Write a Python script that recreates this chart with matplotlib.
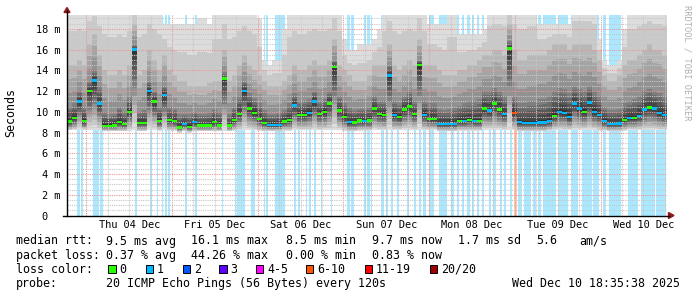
import numpy as np
import matplotlib
matplotlib.use("Agg")
import matplotlib.pyplot as plt
import matplotlib.dates as mdates
from matplotlib.lines import Line2D
from matplotlib.patches import Rectangle, Polygon
from datetime import datetime, timedelta

W, H = 697, 297
t_start = datetime(2025, 12, 3, 18, 35, 38)
t_end = datetime(2025, 12, 10, 18, 35, 38)

# ---------------- data (120 bins of 1.4 h each) ----------------
median_ms = [
    9.06, 9.4, 11.0, 9.1, 12.0, 13.0, 10.8, 8.65, 8.65, 8.7,
    9.0, 8.8, 10.0, 16.0, 8.9, 8.9, 12.0, 11.0, 9.1, 11.6,
    9.2, 9.1, 8.5, 8.8, 8.55, 9.0, 8.67, 8.67, 8.67, 9.0,
    8.7, 13.2, 8.67, 9.2, 9.8, 12.0, 10.3, 9.9, 9.3, 8.9,
    8.74, 8.74, 8.74, 9.06, 9.2, 10.6, 9.7, 9.7, 9.9, 11.0,
    9.8, 10.0, 10.8, 14.3, 10.1, 9.5, 9.0, 8.95, 9.15, 9.1,
    9.15, 10.3, 9.8, 9.7, 13.5, 9.7, 9.5, 10.2, 10.5, 9.8,
    14.5, 9.7, 9.3, 9.3, 8.8, 8.8, 8.8, 8.8, 9.1, 9.1,
    9.2, 9.1, 9.1, 10.3, 10.1, 10.8, 10.2, 9.8, 16.1, 9.9,
    9.0, 8.9, 8.9, 8.9, 8.95, 8.96, 9.1, 9.6, 10.0, 9.9,
    9.5, 10.8, 10.3, 10.0, 10.9, 10.0, 9.7, 9.1, 8.8, 8.8,
    8.85, 9.2, 9.4, 9.4, 9.6, 10.2, 10.4, 10.3, 9.9, 9.7,
]
loss_count = [
    0, 0, 1, 0, 0, 1, 1, 0, 0, 0,
    0, 0, 0, 1, 0, 0, 1, 0, 0, 1,
    0, 0, 0, 1, 0, 1, 0, 0, 0, 0,
    0, 0, 0, 0, 0, 1, 0, 0, 0, 0,
    1, 1, 1, 0, 0, 1, 0, 0, 1, 1,
    0, 0, 0, 0, 0, 0, 1, 0, 0, 1,
    0, 0, 0, 0, 1, 1, 0, 0, 0, 0,
    0, 1, 0, 0, 1, 1, 1, 1, 0, 1,
    0, 1, 0, 0, 1, 0, 0, 1, 0, 7,
    1, 1, 1, 1, 1, 1, 1, 0, 1, 1,
    1, 1, 1, 0, 1, 1, 1, 1, 1, 1,
    1, 0, 1, 0, 1, 1, 0, 1, 1, 1,
]
smoke_min_ms = [
    8.2, 8.2, 8.2, 8.2, 8.2, 8.2, 8.2, 8.1, 8.1, 8.1,
    8.1, 8.1, 8.1, 8.2, 8.1, 8.1, 8.2, 8.2, 8.1, 8.2,
    8.1, 8.1, 8.0, 8.1, 8.0, 8.1, 8.1, 8.1, 8.1, 8.1,
    8.1, 8.1, 8.1, 8.1, 8.2, 8.2, 8.2, 8.2, 8.1, 8.1,
    8.1, 8.1, 8.1, 8.1, 8.1, 8.2, 8.2, 8.2, 8.2, 8.2,
    8.2, 8.2, 8.2, 8.2, 8.2, 8.1, 8.1, 8.1, 8.1, 8.1,
    8.1, 8.2, 8.2, 8.2, 8.2, 8.2, 8.2, 8.2, 8.2, 8.2,
    8.2, 8.2, 8.2, 8.2, 8.1, 8.1, 8.1, 8.1, 8.1, 8.1,
    8.1, 8.1, 8.1, 8.2, 8.2, 8.2, 8.2, 8.2, 8.2, 8.2,
    8.1, 8.1, 8.1, 8.1, 8.1, 8.1, 8.1, 8.2, 8.2, 8.2,
    8.2, 8.2, 8.2, 8.2, 8.2, 8.2, 8.1, 8.1, 8.1, 8.1,
    8.1, 8.1, 8.2, 8.2, 8.2, 8.2, 8.2, 8.2, 8.2, 8.2,
]
smoke_q75_ms = [
    10.5, 10.8, 12.0, 10.5, 13.0, 14.0, 12.5, 10.0, 9.8, 9.8,
    10.5, 10.0, 11.5, 16.5, 10.0, 10.2, 13.0, 12.0, 10.5, 12.5,
    10.5, 10.3, 9.8, 9.8, 9.8, 10.0, 9.8, 9.8, 9.9, 10.3,
    10.0, 13.8, 9.8, 10.5, 11.5, 13.0, 11.8, 11.3, 10.8, 10.2,
    9.8, 9.8, 9.9, 10.2, 10.8, 11.8, 11.0, 11.0, 11.2, 12.0,
    11.0, 11.2, 12.0, 15.0, 11.5, 10.8, 10.4, 10.2, 10.3, 10.3,
    10.5, 11.5, 11.0, 11.0, 14.5, 11.0, 10.8, 11.5, 12.0, 11.0,
    15.0, 11.0, 10.8, 10.8, 10.3, 10.2, 10.3, 10.4, 10.6, 10.8,
    11.0, 11.0, 11.2, 12.0, 12.0, 12.3, 12.0, 11.5, 16.8, 11.5,
    10.8, 10.8, 11.0, 11.0, 11.2, 11.2, 11.5, 12.0, 12.3, 12.2,
    11.8, 12.5, 12.2, 12.0, 12.5, 12.0, 11.5, 10.5, 10.2, 10.2,
    10.3, 10.8, 11.0, 11.2, 11.5, 12.0, 12.2, 12.0, 11.8, 11.5,
]
smoke_q90_ms = [
    14.5, 14.5, 15.0, 14.5, 16.5, 17.5, 15.5, 14.0, 13.5, 13.5,
    14.0, 13.5, 14.5, 18.5, 13.5, 14.0, 16.0, 15.0, 14.0, 15.5,
    14.0, 13.5, 13.0, 13.0, 12.5, 12.5, 12.5, 12.5, 12.8, 13.0,
    13.0, 16.0, 13.0, 13.5, 14.5, 15.5, 14.5, 14.0, 13.5, 13.0,
    12.5, 12.5, 12.5, 13.0, 13.5, 14.5, 14.0, 14.0, 14.5, 15.0,
    14.5, 14.5, 15.0, 17.0, 14.5, 14.0, 13.5, 13.0, 13.0, 13.0,
    13.5, 14.5, 14.5, 14.5, 16.5, 14.5, 14.0, 14.5, 15.0, 14.5,
    17.0, 14.5, 14.5, 14.5, 14.0, 13.5, 13.5, 13.5, 14.0, 14.0,
    14.5, 14.5, 15.0, 15.5, 15.5, 16.0, 16.0, 15.5, 18.5, 16.0,
    15.0, 15.0, 15.5, 15.5, 15.5, 15.5, 16.0, 16.5, 16.5, 16.5,
    16.0, 16.5, 16.5, 16.5, 16.5, 16.0, 15.0, 13.5, 13.0, 13.0,
    13.5, 14.5, 15.0, 15.0, 15.5, 16.0, 16.5, 16.0, 16.0, 15.5,
]
smoke_max_ms = [
    21, 21, 21, 21, 21, 21, 21, 21, 21, 21,
    21, 21, 21, 21, 21, 21, 21, 21, 21, 18.5,
    18.5, 18.5, 18.5, 18.5, 18.5, 18.5, 19.0, 19.0, 18.5, 21,
    21, 21, 21, 21, 21, 21, 21, 21, 19, 15,
    14.5, 15, 15, 18, 21, 21, 21, 21, 21, 21,
    21, 21, 21, 21, 21, 17, 16, 16, 16.5, 16.5,
    16.5, 17, 18, 21, 21, 21, 21, 21, 21, 21,
    21, 21, 18.5, 18.5, 18.5, 18.5, 21, 21, 17.5, 17.5,
    17.5, 17.5, 17.5, 18, 21, 21, 21, 21, 21, 21,
    21, 21, 21, 21, 18.5, 18.5, 18.5, 18.5, 18.5, 18.5,
    18.5, 21, 21, 21, 21, 21, 17, 15, 14.5, 14.5,
    15, 18, 21, 21, 21, 21, 21, 21, 21, 21,
]

# loss background periods (hours after start) and lost pings
loss_bg_start_h = [2.9, 3.8, 7.4, 9.2, 19.1, 23.1, 25.2, 26.6, 27.5, 28.4,
                   33.0, 35.9, 43.4, 46.9, 47.6, 51.5, 55.1, 55.8, 58.1, 63.5,
                   64.6, 66.8, 67.7, 69.1, 71.0, 73.8, 78.5, 79.4, 83.1, 84.1,
                   85.0, 87.8, 89.2, 90.6, 92.5, 95.1, 97.1, 98.5, 99.8, 101.4,
                   104.2, 107.4, 109.3, 110.7, 112.1, 113.5, 114.9, 116.3, 118.2, 119.4,
                   121.3, 122.4, 124.1, 125.2, 126.3, 128.0, 130.4, 131.8, 133.2, 137.4,
                   141.1, 144.1, 147.2, 150.0, 151.8, 157.0, 160.8, 165.0]
loss_bg_end_h = [3.5, 4.4, 9.0, 10.0, 19.7, 23.7, 25.6, 27.0, 28.0, 28.9,
                 33.6, 36.4, 43.7, 47.4, 49.9, 52.5, 55.5, 56.2, 60.9, 64.0,
                 65.1, 67.2, 68.4, 69.6, 71.4, 74.3, 79.2, 80.3, 83.8, 84.7,
                 85.5, 88.7, 89.9, 91.4, 92.9, 95.7, 97.6, 99.2, 100.4, 102.8,
                 106.5, 108.4, 109.8, 111.2, 112.9, 114.0, 115.4, 116.8, 118.7, 120.1,
                 121.7, 123.0, 124.7, 126.0, 127.5, 129.9, 131.3, 132.7, 136.9, 140.2,
                 143.0, 146.9, 149.0, 150.9, 155.1, 159.8, 164.5, 167.8]
loss_bg_count = [1] * 53 + [7] + [1] * 14

loss_labels = ["0", "1", "2", "3", "4-5", "6-10", "11-19", "20/20"]
loss_colors = ["#26ff00", "#00b8ff", "#0059ff", "#5e00ff",
               "#ff00ff", "#ff5500", "#ff0000", "#a10000"]
loss_upper = [0, 1, 2, 3, 5, 10, 19, 20]

legend_rows = [
    [("median rtt:", 16), ("9.5 ms avg", 106.5), ("16.1 ms max", 191),
     ("8.5 ms min", 286.5), ("9.7 ms now", 371.5), ("1.7 ms sd", 457.5),
     ("5.6", 536), ("am/s", 579)],
    [("packet loss:", 16), ("0.37 % avg", 106.5), ("44.26 % max", 191.5),
     ("0.00 % min", 286.5), ("0.83 % now", 371.5)],
    [("loss color:", 16)],
    [("probe:", 16), ("20 ICMP Echo Pings (56 Bytes) every 120s", 106.5),
     ("Wed Dec 10 18:35:38 2025", 512)],
]
legend_box_x = [108, 145.5, 182.5, 219, 255.5, 305.5, 364.5, 429.5]

# ---------------- helpers ----------------
def cls(c):
    for k, u in enumerate(loss_upper):
        if c <= u:
            return k
    return len(loss_upper) - 1

def light(hexcol, a=0.33):
    r, g, b = matplotlib.colors.to_rgb(hexcol)
    return (1 - a + a * r, 1 - a + a * g, 1 - a + a * b)

def fx(x):
    return x / W

def fy(y):
    return 1 - y / H

MONO = "DejaVu Sans Mono"

fig = plt.figure(figsize=(W / 100, H / 100), dpi=100)
fig.patch.set_facecolor("white")
y_bot, y_top = 215.5, 15.0
ymax = 19.33
ax = fig.add_axes([fx(67), fy(y_bot), 600 / W, (y_bot - y_top) / H])
ax.set_facecolor("white")

x0 = mdates.date2num(t_start)
x1 = mdates.date2num(t_end)
n = len(median_ms)
bw = (x1 - x0) / n
xc = x0 + (np.arange(n) + 0.5) * bw

# loss background
for s, e, c in zip(loss_bg_start_h, loss_bg_end_h, loss_bg_count):
    ax.axvspan(x0 + s / 24, x0 + e / 24, color=light(loss_colors[cls(c)]),
               lw=0, zorder=1)

# smoke
anch_r = [0.0, 0.5, 14 / 19, 17 / 19, 1.0]
anch = np.array([smoke_min_ms, median_ms, smoke_q75_ms, smoke_q90_ms, smoke_max_ms])
half = 10
for k in range(1, half + 1):
    rlo = (k - 1) / 19
    rhi = (20 - k) / 19
    lo = np.array([np.interp(rlo, anch_r, anch[:, i]) for i in range(n)])
    hi = np.array([np.interp(rhi, anch_r, anch[:, i]) for i in range(n)])
    g = (int(190 / half * (half - k)) + 50) / 255
    ax.bar(xc, hi - lo, bottom=lo, width=bw, color=(g, g, g), lw=0,
           antialiased=False, zorder=2)

# grid
t = datetime(2025, 12, 4, 0, 0)
while t < t_end:
    xv = mdates.date2num(t)
    if t.hour == 0:
        ax.axvline(xv, color="#e89898", lw=0.8, ls=(0, (1, 1)), zorder=3)
    else:
        ax.axvline(xv, color="#c8c8c8", lw=0.8, ls=(0, (1, 1)), zorder=3)
    t += timedelta(hours=6)
for v in np.arange(0.5, ymax, 0.5):
    if abs(v / 2 - round(v / 2)) < 1e-6:
        ax.axhline(v, color="#e89898", lw=0.8, ls=(0, (1, 1)), zorder=3)
    else:
        ax.axhline(v, color="#c8c8c8", lw=0.8, ls=(0, (1, 1)), zorder=3)

# median
sw = 0.12
mcol = [loss_colors[cls(c)] for c in loss_count]
ax.bar(xc, 2 * sw, bottom=np.array(median_ms) - sw, width=bw, color=mcol,
       lw=0, antialiased=False, zorder=5)

ax.set_xlim(x0, x1)
ax.set_ylim(0, ymax)
for sp in ax.spines.values():
    sp.set_visible(False)

yt = list(range(0, 19, 2))
ax.set_yticks(yt)
ax.set_yticklabels(["0  "] + ["%d m" % v for v in yt[1:]], family=MONO,
                   fontsize=7.4)
ax.tick_params(axis="y", length=0, pad=5)
noons = [datetime(2025, 12, d, 12, 0) for d in range(4, 11)]
ax.set_xticks([mdates.date2num(d) for d in noons])
ax.set_xticklabels([d.strftime("%a %d %b") for d in noons], family=MONO,
                   fontsize=7.4)
ax.tick_params(axis="x", length=0, pad=3.5)

# axes lines and arrows
arrow_c = "#8b1a1a"
fig.add_artist(Line2D([fx(67), fx(67)], [fy(216), fy(11)], color="black",
                      lw=1, transform=fig.transFigure))
fig.add_artist(Line2D([fx(63), fx(669)], [fy(215.5), fy(215.5)], color="black",
                      lw=1, transform=fig.transFigure))
fig.add_artist(Polygon([[fx(64), fy(12.5)], [fx(70), fy(12.5)], [fx(67), fy(7.5)]],
                       closed=True, color=arrow_c, transform=fig.transFigure))
fig.add_artist(Polygon([[fx(668.5), fy(212.5)], [fx(668.5), fy(218.5)], [fx(674), fy(215.5)]],
                       closed=True, color=arrow_c, transform=fig.transFigure))

# labels
fig.text(fx(11), fy(113), "Seconds", rotation=90, ha="center", va="center",
         family=MONO, fontsize=8.4)
fig.text(fx(687), fy(5), "RRDTOOL / TOBI OETIKER", rotation=270, ha="center",
         va="top", family=MONO, fontsize=6.2, color="#b0b0b0")

row_y = [241, 255.5, 269.5, 283.5]
for row, yy in zip(legend_rows, row_y):
    for s, xx in row:
        fig.text(fx(xx), fy(yy), s, ha="left", va="center", family=MONO,
                 fontsize=8.4)
for bx, lab, col in zip(legend_box_x, loss_labels, loss_colors):
    fig.add_artist(Rectangle((fx(bx), fy(272.5)), 7.5 / W, 7.5 / H,
                             facecolor=col, edgecolor="black", lw=0.7,
                             transform=fig.transFigure))
    fig.text(fx(bx + 11.5), fy(row_y[2]), lab, ha="left", va="center",
             family=MONO, fontsize=8.4)

fig.savefig("out.png", dpi=100)
